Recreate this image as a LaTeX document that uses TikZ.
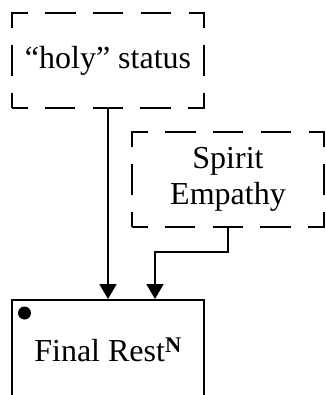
\documentclass[tikz,border=0pt]{standalone}
\usepackage{fontspec}
\setmainfont{Liberation Serif}
\usetikzlibrary{arrows.meta}

\begin{document}
\begin{tikzpicture}[x=1pt,y=-1pt,line width=2pt]
	\fontsize{32}{36}\selectfont
	\tikzstyle{every node}+=[inner sep=0pt]
	\tikzstyle{optbox}=[draw,dash pattern=on 30.5pt off 17.33pt,dash phase=15pt,minimum width=192pt,minimum height=95pt,align=center]
	\tikzstyle{mainbox}=[draw,minimum width=192pt,minimum height=100pt]
	\tikzstyle{link}=[-{Triangle[length=15pt,width=17pt]}]
	\useasboundingbox (0,0) rectangle (325,395);
	\node[optbox] (holy) at (108,60.5) {``holy'' status};
	\node[optbox] (spirit) at (228,179.5) {Spirit\\Empathy};
	\node[mainbox] (rest) at (108,350) {Final Rest\textsuperscript{\textbf{N}}};
	\fill (24.5,313) circle (6.5);
	\draw[link] (holy.south) -- (rest.north);
	\draw[link] (spirit.south) -- ++(0,24) -| ([xshift=47pt]rest.north);
\end{tikzpicture}
\end{document}
